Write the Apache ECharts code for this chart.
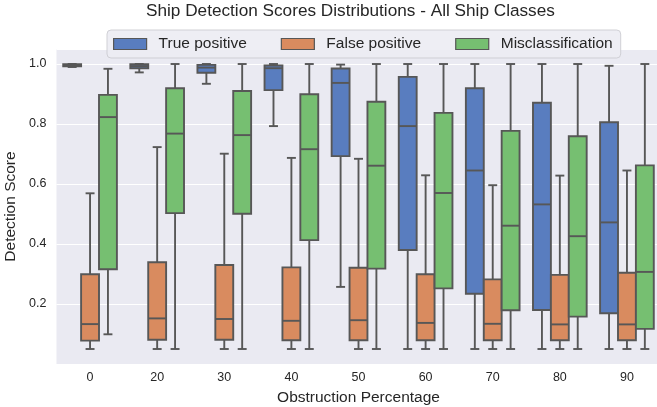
<!DOCTYPE html>
<html>
<head>
<meta charset="utf-8">
<script src="https://cdn.jsdelivr.net/npm/echarts@6/dist/echarts.min.js"></script>
<style>
html,body{margin:0;padding:0;background:#fff;}
#c{width:657px;height:407px;}
</style>
</head>
<body>
<div id="c"></div>
<script>
// Data: [min, q1, median, q3, max] per obstruction percentage
const categories = ['0', '20', '30', '40', '50', '60', '70', '80', '90'];
const truePositive = [
  [0.990, 0.992, 0.996, 0.999, 1.000],
  [0.972, 0.986, 0.993, 0.999, 1.000],
  [0.934, 0.971, 0.988, 0.997, 1.000],
  [0.793, 0.913, 0.986, 0.995, 1.000],
  [0.257, 0.693, 0.937, 0.985, 0.998],
  [0.050, 0.380, 0.793, 0.957, 1.000],
  [0.050, 0.234, 0.645, 0.919, 1.000],
  [0.050, 0.180, 0.532, 0.871, 1.000],
  [0.050, 0.169, 0.472, 0.806, 0.994]
];
const falsePositive = [
  [0.050, 0.078, 0.133, 0.299, 0.569],
  [0.050, 0.081, 0.152, 0.339, 0.723],
  [0.050, 0.081, 0.150, 0.330, 0.701],
  [0.050, 0.079, 0.144, 0.322, 0.687],
  [0.050, 0.079, 0.146, 0.321, 0.684],
  [0.050, 0.079, 0.137, 0.299, 0.629],
  [0.050, 0.079, 0.134, 0.282, 0.596],
  [0.050, 0.079, 0.132, 0.297, 0.628],
  [0.050, 0.079, 0.132, 0.304, 0.645]
];
const misclassification = [
  [0.099, 0.316, 0.823, 0.897, 0.984],
  [0.050, 0.503, 0.768, 0.919, 1.000],
  [0.050, 0.501, 0.763, 0.910, 1.000],
  [0.050, 0.413, 0.716, 0.899, 1.000],
  [0.050, 0.318, 0.661, 0.874, 1.000],
  [0.050, 0.252, 0.570, 0.837, 1.000],
  [0.050, 0.179, 0.461, 0.777, 1.000],
  [0.050, 0.158, 0.426, 0.759, 1.000],
  [0.050, 0.117, 0.307, 0.662, 1.000]
];
const seriesNames = ['True positive', 'False positive', 'Misclassification'];
const seriesColors = ['#597dbf', '#d98b5f', '#76bf71'];

const lineColor = '#575757';
const textColor = '#262626';
const FONT = '"Liberation Sans", Arial, sans-serif';

function makeRender(offset) {
  return function (params, api) {
    const i = api.value(0);
    const band = api.size([1, 0])[0];
    const w = band * 0.8 / 3;
    const cx = api.coord([i, 0.5])[0] + offset * w;
    const y = k => api.coord([i, api.value(k)])[1];
    const yMin = y(1), yQ1 = y(2), yMed = y(3), yQ3 = y(4), yMax = y(5);
    const half = w / 2, cap = w / 4;
    const style = { stroke: lineColor, lineWidth: 1.9, fill: null };
    const color = api.visual('color');
    return {
      type: 'group',
      children: [
        { type: 'line', shape: { x1: cx, y1: yQ3, x2: cx, y2: yMax }, style: style },
        { type: 'line', shape: { x1: cx, y1: yQ1, x2: cx, y2: yMin }, style: style },
        { type: 'line', shape: { x1: cx - cap, y1: yMax, x2: cx + cap, y2: yMax }, style: style },
        { type: 'line', shape: { x1: cx - cap, y1: yMin, x2: cx + cap, y2: yMin }, style: style },
        { type: 'rect', shape: { x: cx - half, y: yQ3, width: w, height: yQ1 - yQ3 },
          style: { fill: color, stroke: lineColor, lineWidth: 1.9 } },
        { type: 'line', shape: { x1: cx - half, y1: yMed, x2: cx + half, y2: yMed }, style: style }
      ]
    };
  };
}

const allData = [truePositive, falsePositive, misclassification];
const series = allData.map((arr, s) => ({
  name: seriesNames[s],
  type: 'custom',
  renderItem: makeRender(s - 1),
  itemStyle: { color: seriesColors[s] },
  encode: { x: 0, y: [1, 2, 3, 4, 5] },
  data: arr.map((d, i) => [i].concat(d)),
  z: 3
}));

const chart = echarts.init(document.getElementById('c'), null, { renderer: 'canvas' });
chart.setOption({
  animation: false,
  backgroundColor: '#ffffff',
  title: {
    text: 'Ship Detection Scores Distributions - All Ship Classes',
    left: 146,
    top: 3,
    padding: 0,
    textStyle: { fontFamily: FONT, fontSize: 17.2, fontWeight: 'normal', color: textColor }
  },
  legend: {
    data: seriesNames,
    left: 107,
    top: 30,
    orient: 'horizontal',
    padding: [5, 8, 5, 6],
    itemWidth: 33,
    itemHeight: 11,
    itemGap: 34,
    icon: 'rect',
    backgroundColor: 'rgba(236,236,243,0.9)',
    borderColor: 'rgba(204,204,210,0.9)',
    borderWidth: 1,
    borderRadius: 4,
    itemStyle: { borderColor: lineColor, borderWidth: 1.2 },
    textStyle: { fontFamily: FONT, fontSize: 15.5, color: textColor, padding: [0, 0, 0, 7], lineHeight: 18 }
  },
  grid: {
    left: 56.5,
    top: 49,
    width: 604,
    height: 315,
    show: true,
    backgroundColor: '#eaeaf2',
    borderWidth: 0,
    containLabel: false,
    outerBoundsMode: 'none'
  },
  xAxis: {
    type: 'category',
    data: categories,
    boundaryGap: true,
    name: 'Obstruction Percentage',
    nameLocation: 'middle',
    nameGap: 26,
    nameTextStyle: { fontFamily: FONT, fontSize: 15.5, color: textColor },
    axisLine: { show: false },
    axisTick: { show: false },
    splitLine: { show: false },
    axisLabel: { fontFamily: FONT, fontSize: 12.5, color: textColor, margin: 7 }
  },
  yAxis: {
    type: 'value',
    min: 0,
    max: 1.05,
    interval: 0.2,
    name: 'Detection Score',
    nameLocation: 'middle',
    nameGap: 33,
    nameRotate: 90,
    nameTextStyle: { fontFamily: FONT, fontSize: 15.5, color: textColor },
    axisLine: { show: false },
    axisTick: { show: false },
    splitLine: { show: true, lineStyle: { color: '#ffffff', width: 1.2 } },
    axisLabel: {
      fontFamily: FONT, fontSize: 12.5, color: textColor, margin: 10,
      showMinLabel: false, showMaxLabel: false,
      formatter: v => (v < 0.01 || v > 1.01) ? '' : v.toFixed(1)
    }
  },
  series: series
});
</script>
</body>
</html>
